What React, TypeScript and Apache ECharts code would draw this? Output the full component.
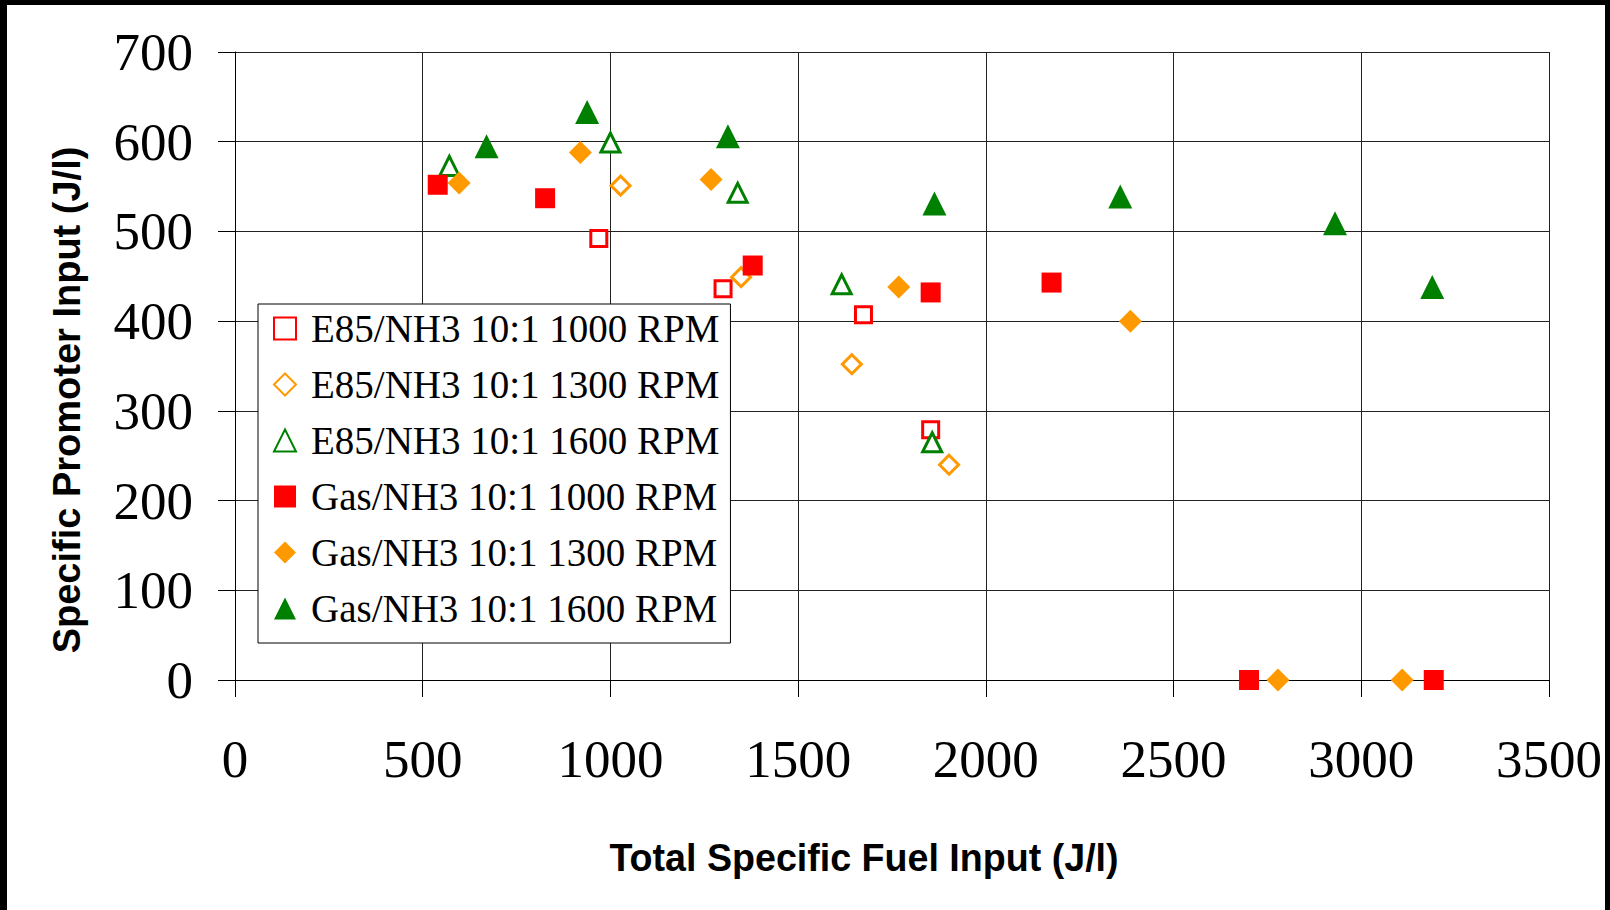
import React, { useEffect, useRef } from "react";
import * as echarts from "echarts";

const seriesNames = [
  "E85/NH3 10:1 1000 RPM",
  "E85/NH3 10:1 1300 RPM",
  "E85/NH3 10:1 1600 RPM",
  "Gas/NH3 10:1 1000 RPM",
  "Gas/NH3 10:1 1300 RPM",
  "Gas/NH3 10:1 1600 RPM",
];

const e85_1000 = [
  [969, 492],
  [1300, 436],
  [1674, 407],
  [1853, 279],
];
const e85_1300 = [
  [1027, 551],
  [1348, 449],
  [1643, 352],
  [1902, 240],
];
const e85_1600 = [
  [571, 573],
  [1000, 599],
  [1339, 543],
  [1616, 441],
  [1857, 265],
];
const gas_1000 = [
  [540, 552],
  [826, 537],
  [1379, 462],
  [1853, 432],
  [2175, 443],
  [2701, 0],
  [3193, 0],
];
const gas_1300 = [
  [597, 554],
  [920, 588],
  [1268, 558],
  [1768, 438],
  [2385, 400],
  [2778, 0],
  [3109, 0],
];
const gas_1600 = [
  [670, 595],
  [938, 633],
  [1313, 606],
  [1863, 531],
  [2358, 539],
  [2930, 509],
  [3189, 438],
];

const xAxisTitle = "Total Specific Fuel Input (J/l)";
const yAxisTitle = "Specific Promoter Input (J/l)";

const RED = "#ff0000";
const ORANGE = "#ff9900";
const GREEN = "#008000";

export default function App() {
  const ref = useRef<HTMLDivElement>(null);

  useEffect(() => {
    if (!ref.current) return;
    const chart = echarts.init(ref.current, null, { renderer: "svg" });

    const openStyle = (c: string) => ({ color: "#fff", borderColor: c, borderWidth: 3, opacity: 1 });
    const fillStyle = (c: string) => ({ color: c, borderColor: c, borderWidth: 0, opacity: 1 });

    const mk = (name: string, data: number[][], symbol: string, size: number, itemStyle: any) => ({
      name,
      type: "scatter",
      data,
      symbol,
      symbolSize: size,
      itemStyle,
      silent: true,
      emphasis: { disabled: true },
    });

    const serif = "'Liberation Serif', 'Times New Roman', serif";
    const sans = "'Liberation Sans', Arial, sans-serif";
    const plain = (v: number) => String(v);

    chart.setOption({
      animation: false,
      backgroundColor: "#fff",
      grid: { left: 235, right: 61, top: 52, bottom: 230, show: false },
      xAxis: {
        type: "value",
        min: 0,
        max: 3500,
        interval: 500,
        axisLine: { show: true, onZero: false, lineStyle: { color: "#000", width: 1 } },
        axisTick: { show: true, length: 17, lineStyle: { color: "#000", width: 1 } },
        axisLabel: { fontFamily: serif, fontSize: 53, color: "#000", margin: 52, formatter: plain },
        splitLine: { show: true, lineStyle: { color: "#222", width: 1 } },
      },
      yAxis: {
        type: "value",
        min: 0,
        max: 700,
        interval: 100,
        axisLine: { show: true, onZero: false, lineStyle: { color: "#000", width: 1 } },
        axisTick: { show: true, length: 17, lineStyle: { color: "#000", width: 1 } },
        axisLabel: { fontFamily: serif, fontSize: 53, color: "#000", margin: 42, formatter: plain },
        splitLine: { show: true, lineStyle: { color: "#222", width: 1 } },
      },
      legend: {
        data: seriesNames,
        orient: "vertical",
        left: 258,
        top: 304,
        padding: [5, 11, 15, 15],
        itemGap: 17,
        itemWidth: 22,
        itemHeight: 22,
        backgroundColor: "#fff",
        borderColor: "#000",
        borderWidth: 1,
        selectedMode: false,
        textStyle: {
          fontFamily: serif,
          fontSize: 39,
          lineHeight: 39,
          color: "#000",
          padding: [0, 0, 0, 10],
        },
      },
      graphic: [
        { type: "rect", shape: { x: 0, y: 0, width: 1610, height: 5 }, style: { fill: "#000" } },
        { type: "rect", shape: { x: 0, y: 0, width: 7, height: 910 }, style: { fill: "#000" } },
        { type: "rect", shape: { x: 1605, y: 0, width: 5, height: 910 }, style: { fill: "#000" } },
        {
          type: "text",
          x: 67,
          y: 400,
          rotation: Math.PI / 2,
          style: {
            text: yAxisTitle,
            font: `bold 38px ${sans}`,
            fill: "#000",
            align: "center",
            verticalAlign: "middle",
            textAlign: "center",
            textVerticalAlign: "middle",
          },
        },
        {
          type: "text",
          x: 864,
          y: 858,
          scaleX: 0.99,
          style: {
            text: xAxisTitle,
            font: `bold 38px ${sans}`,
            fill: "#000",
            align: "center",
            verticalAlign: "middle",
            textAlign: "center",
            textVerticalAlign: "middle",
          },
        },
      ],
      series: [
        mk(seriesNames[0], e85_1000, "rect", 16, openStyle(RED)),
        mk(seriesNames[1], e85_1300, "diamond", 19, openStyle(ORANGE)),
        mk(seriesNames[2], e85_1600, "triangle", 19, openStyle(GREEN)),
        mk(seriesNames[3], gas_1000, "rect", 20, fillStyle(RED)),
        mk(seriesNames[4], gas_1300, "diamond", 23, fillStyle(ORANGE)),
        mk(seriesNames[5], gas_1600, "triangle", 24, fillStyle(GREEN)),
      ],
    });

    return () => chart.dispose();
  }, []);

  return (
    <div
      ref={ref}
      style={{ position: "fixed", left: 0, top: 0, width: 1610, height: 910, background: "#fff" }}
    />
  );
}
